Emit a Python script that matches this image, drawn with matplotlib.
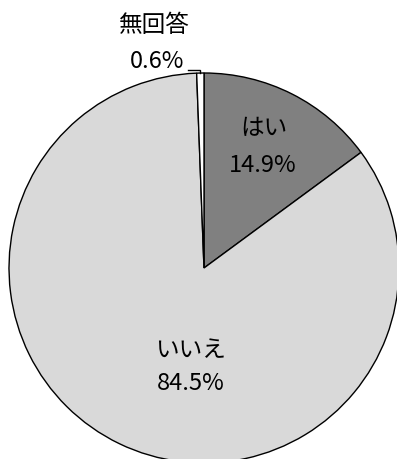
import numpy as np
from matplotlib import pyplot as plt

plt.rcParams['font.family'] = ['Noto Sans CJK JP', 'DejaVu Sans']

labels = ['はい', 'いいえ', '無回答']
values = [14.9, 84.5, 0.6]
colors = ['#808080', '#d9d9d9', '#ffffff']

# pixel geometry of the reference (center, radius)
W, H = 397, 459
cx, cy, R = 204, 268, 195

def px(x, y):
    return ((x - cx) / R, (cy - y) / R)

fig = plt.figure(figsize=(W / 100, H / 100), dpi=100)
ax = fig.add_axes([0, 0, 1, 1])
wedges, _ = ax.pie(values, colors=colors, startangle=90, counterclock=False,
                   radius=1, center=(0, 0),
                   wedgeprops=dict(edgecolor='black', linewidth=1.0))
ax.set_xlim(-cx / R, (W - cx) / R)
ax.set_ylim(-(H - cy) / R, cy / R)
ax.set_aspect('equal', adjustable='datalim')
ax.axis('off')

fs = 17
# はい
ax.text(*px(264, 129), labels[0], ha='center', va='center', fontsize=fs)
ax.text(*px(263, 165), f'{values[0]}%', ha='center', va='center', fontsize=fs)
# いいえ
ax.text(*px(190, 351), labels[1], ha='center', va='center', fontsize=fs)
ax.text(*px(191, 384), f'{values[1]}%', ha='center', va='center', fontsize=fs)
# 無回答 (outside with leader)
ax.text(*px(154, 25), labels[2], ha='center', va='center', fontsize=fs)
ax.text(*px(157, 61), f'{values[2]}%', ha='center', va='center', fontsize=fs)

w = wedges[2]
mid = np.deg2rad((w.theta1 + w.theta2) / 2)
ex, ey = np.cos(mid), np.sin(mid)
lx0, ly = px(188, 70)
ax.plot([lx0, ex, ex], [ly, ly, ey], color='black', linewidth=1.0,
        solid_joinstyle='miter')

fig.savefig('out.png', dpi=100)
